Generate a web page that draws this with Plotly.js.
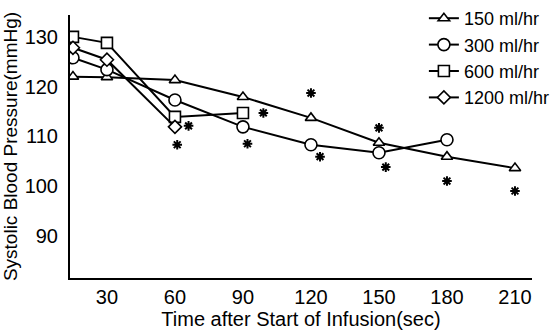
<!DOCTYPE html>
<html><head><meta charset="utf-8">
<script src="https://cdn.plot.ly/plotly-3.0.1.min.js"></script>
<style>html,body{margin:0;padding:0;background:#fff}#c{width:556px;height:333px}</style>
</head><body><div id="c"></div>
<script>
const seriesNames = ["150 ml/hr", "300 ml/hr", "600 ml/hr", "1200 ml/hr"];
const t150 = [15, 30, 60, 90, 120, 150, 180, 210];
const v150 = [122.0, 121.9, 121.3, 117.9, 113.7, 108.7, 105.9, 103.6];
const t300 = [15, 30, 60, 90, 120, 150, 180];
const v300 = [125.8, 123.4, 117.3, 111.9, 108.3, 106.7, 109.3];
const t600 = [15, 30, 60, 90];
const v600 = [130.0, 128.8, 113.9, 114.7];
const t1200 = [15, 30, 60];
const v1200 = [127.8, 125.4, 111.9];
const starT = [61, 66, 92, 99, 120, 124, 150, 153, 180, 210];
const starV = [108.3, 112.1, 108.5, 114.7, 118.7, 105.9, 111.7, 103.8, 101.0, 99.0];
const xTicks = [30, 60, 90, 120, 150, 180, 210];
const yTicks = [90, 100, 110, 120, 130];

const FONT = "Liberation Sans, Arial, sans-serif";
const symbols = ["triangle-up", "circle", "square", "diamond"];
const xs = [t150, t300, t600, t1200];
const ys = [v150, v300, v600, v1200];
const sizes = [10, 12, 11, 10];
const traces = seriesNames.map((n, i) => ({
  type: "scatter", mode: "lines+markers", name: n,
  x: xs[i], y: ys[i],
  line: {color: "#000", width: 2},
  marker: {symbol: symbols[i], size: sizes[i], color: "#fff", line: {color: "#000", width: 1.6}}
}));
traces.push({
  type: "scatter", mode: "markers", x: starT, y: starV, showlegend: false,
  marker: {symbol: "asterisk-open", size: 8, color: "#000", line: {color: "#000", width: 2}}
});

const layout = {
  width: 556, height: 333,
  margin: {l: 0, r: 0, t: 0, b: 0},
  paper_bgcolor: "#fff", plot_bgcolor: "#fff",
  font: {family: FONT, size: 20, color: "#000"},
  showlegend: true,
  legend: {x: 0.998, y: 1.0, xanchor: "right", yanchor: "top", bgcolor: "rgba(0,0,0,0)",
           borderwidth: 0, font: {family: FONT, size: 18, color: "#000"}, tracegroupgap: 0},
  xaxis: {domain: [0.1259, 0.9568], range: [13.7, 217.5], tickvals: xTicks, ticktext: xTicks.map(String),
          showgrid: false, zeroline: false, showline: true, linecolor: "#000", linewidth: 2,
          ticks: "", ticklabelstandoff: 0, automargin: false,
          title: {text: "Time after Start of Infusion(sec)", font: {family: FONT, size: 20}, standoff: 0}},
  yaxis: {domain: [0.1652, 0.955], range: [81.5, 134.4], tickvals: yTicks, ticktext: yTicks.map(String),
          showgrid: false, zeroline: false, showline: true, linecolor: "#000", linewidth: 2,
          ticks: "", ticklabelstandoff: 6, automargin: false,
          title: {text: "Systolic Blood Pressure(mmHg)", font: {family: FONT, size: 19}, standoff: 4}}
};
Plotly.newPlot("c", traces, layout, {displayModeBar: false, staticPlot: true});
</script></body></html>
